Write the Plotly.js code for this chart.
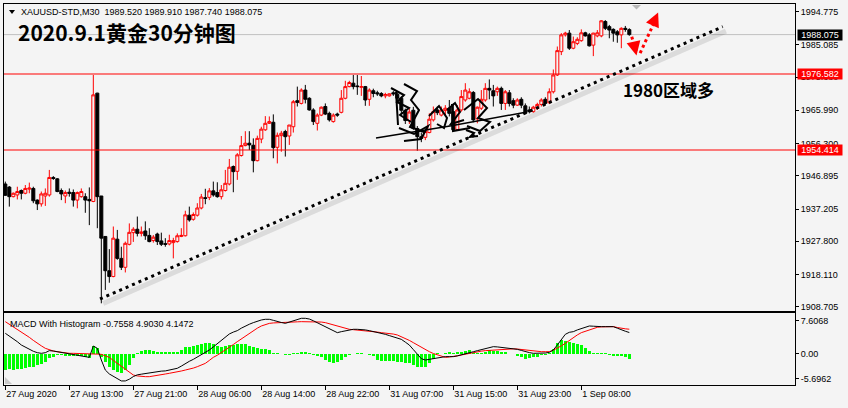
<!DOCTYPE html>
<html><head><meta charset="utf-8">
<script src="https://cdn.plot.ly/plotly-3.0.1.min.js"></script>
<style>html,body{margin:0;padding:0;background:#f4f4f4;}#chart{width:848px;height:408px;}</style>
</head><body><div id="chart"></div>
<script>
// ---- data (XAUUSD M30, bar index 0 = 27 Aug 2020) ----
const opens = [1944.5,1943.6,1940.8,1941.3,1942.6,1941.8,1943.0,1943.2,1939.8,1938.7,
1941.0,1941.3,1946.4,1946.0,1942.6,1941.0,1942.1,1942.0,1939.8,1940.8,
1940.8,1940.0,1939.4,1971.0,1941.0,1929.2,1919.2,1917.5,1928.4,1922.8,
1920.2,1926.9,1930.3,1931.3,1930.1,1930.8,1929.5,1928.0,1929.9,1927.9,
1927.1,1927.0,1927.4,1927.7,1929.2,1929.4,1935.4,1934.2,1935.4,1937.5,
1940.5,1940.6,1942.5,1942.0,1940.8,1942.6,1944.5,1949.6,1948.2,1952.8,
1955.7,1956.4,1955.8,1951.3,1957.6,1960.3,1962.2,1962.5,1955.2,1958.6,
1959.8,1958.5,1961.2,1968.8,1968.0,1971.9,1969.5,1966.1,1962.2,1964.6,
1967.1,1965.1,1962.7,1964.9,1965.4,1969.5,1972.9,1973.9,1973.1,1972.7,
1972.9,1969.2,1971.7,1971.1,1970.9,1970.2,1970.2,1971.1,1970.7,1969.5,
1966.0,1963.0,1966.0,1960.7,1958.3,1958.1,1959.5,1963.2,1966.1,1964.6,
1965.9,1966.6,1965.6,1960.4,1966.1,1969.0,1969.5,1971.2,1963.5,1966.6,
1969.0,1972.4,1971.7,1971.4,1972.4,1968.0,1971.1,1968.8,1967.5,1969.2,
1967.3,1966.1,1965.6,1966.6,1967.7,1969.2,1968.2,1971.4,1976.3,1983.1,
1988.0,1988.5,1984.1,1985.5,1986.3,1988.6,1988.0,1985.0,1987.7,1987.7,
1991.9,1990.4,1989.6,1988.9,1988.0,1989.9,1989.52];
const highs = [1945.2,1943.9,1942.0,1943.7,1942.9,1944.2,1944.9,1943.7,1940.0,1942.3,
1943.2,1948.6,1946.8,1946.2,1943.2,1942.6,1943.2,1942.9,1942.3,1943.2,
1941.8,1943.5,1976.3,1971.1,1941.0,1929.2,1925.5,1932.1,1931.1,1926.2,
1927.7,1933.0,1931.9,1935.0,1932.1,1933.6,1931.6,1929.6,1930.3,1930.3,
1928.7,1929.7,1928.8,1930.1,1931.6,1936.7,1937.9,1936.2,1938.9,1941.6,
1943.1,1943.3,1945.2,1945.0,1944.2,1948.6,1951.8,1949.9,1953.5,1958.5,
1959.9,1959.9,1957.8,1958.6,1961.2,1964.3,1964.2,1964.8,1959.5,1960.0,
1960.3,1961.7,1969.0,1972.9,1972.4,1973.4,1969.8,1966.6,1965.1,1967.1,
1968.0,1965.6,1965.1,1965.3,1971.9,1974.6,1974.6,1976.3,1976.3,1976.0,
1973.1,1972.4,1972.3,1971.7,1971.3,1971.1,1970.9,1971.6,1971.2,1970.0,
1966.5,1966.5,1967.0,1961.4,1959.5,1960.3,1965.1,1967.1,1967.1,1967.1,
1967.5,1969.0,1968.0,1967.5,1971.9,1973.9,1972.4,1971.6,1967.1,1971.9,
1973.9,1975.0,1973.4,1972.9,1972.9,1971.9,1971.9,1969.5,1969.5,1969.8,
1968.0,1967.1,1967.3,1968.2,1969.5,1969.8,1972.4,1977.9,1984.6,1988.5,
1988.9,1989.4,1987.5,1987.3,1989.6,1988.9,1988.5,1988.6,1989.4,1992.3,
1992.3,1990.9,1989.9,1989.4,1990.2,1990.6,1989.91];
const lows = [1941.0,1937.9,1940.6,1940.0,1940.0,1941.5,1941.8,1938.9,1936.9,1937.9,
1938.1,1940.8,1945.7,1942.1,1939.8,1938.9,1940.8,1937.9,1937.4,1940.5,
1936.1,1932.5,1939.2,1931.6,1909.7,1913.6,1915.7,1917.3,1922.4,1919.4,
1918.7,1926.6,1927.6,1929.2,1929.2,1928.2,1927.5,1927.4,1926.7,1926.4,
1926.2,1926.6,1922.8,1927.4,1929.0,1929.2,1933.5,1933.8,1935.0,1937.1,
1938.6,1939.8,1940.8,1940.5,1940.0,1942.3,1944.1,1942.1,1945.7,1952.5,
1955.5,1954.4,1947.9,1951.1,1956.4,1960.0,1962.0,1952.0,1950.5,1953.9,
1952.5,1955.9,1959.5,1967.1,1967.7,1968.0,1965.9,1961.7,1960.1,1964.3,
1964.6,1962.7,1962.4,1964.1,1965.1,1969.2,1972.7,1972.1,1970.5,1970.2,
1967.3,1967.3,1969.8,1970.2,1969.8,1969.5,1970.0,1970.2,1968.0,1965.0,
1962.0,1962.0,1960.3,1954.2,1956.7,1957.3,1959.3,1962.7,1964.6,1964.2,
1964.6,1964.2,1959.8,1960.1,1965.6,1968.5,1969.2,1962.5,1962.2,1966.1,
1968.5,1969.2,1967.1,1970.2,1966.1,1966.1,1967.1,1966.6,1967.3,1966.6,
1964.9,1965.1,1965.3,1966.1,1967.1,1967.5,1967.8,1970.9,1976.0,1982.1,
1987.5,1983.6,1983.8,1985.0,1986.0,1987.5,1984.6,1981.8,1987.3,1987.3,
1989.4,1987.0,1986.0,1985.7,1984.1,1988.9,1987.74];
const closes = [1941.2,1940.8,1941.8,1942.3,1941.8,1943.2,1943.3,1939.6,1938.7,1941.6,
1941.8,1946.4,1946.1,1942.3,1941.6,1942.0,1941.8,1939.8,1942.0,1942.3,
1939.8,1939.6,1970.5,1940.8,1928.7,1919.2,1917.5,1928.7,1922.8,1920.2,
1927.2,1930.4,1931.3,1930.1,1930.5,1929.4,1927.7,1929.0,1927.7,1926.9,
1926.9,1928.0,1928.0,1929.4,1929.5,1935.5,1934.0,1935.6,1937.5,1940.7,
1940.3,1942.5,1941.3,1940.8,1942.8,1944.7,1949.4,1948.1,1953.0,1955.7,
1956.4,1955.9,1951.3,1957.8,1960.5,1962.2,1962.7,1955.1,1958.7,1959.3,
1958.3,1961.7,1968.5,1968.3,1971.9,1969.2,1966.1,1962.7,1964.6,1966.9,
1964.9,1963.2,1964.6,1964.6,1969.5,1972.9,1974.1,1972.9,1972.9,1972.9,
1969.0,1971.9,1970.9,1970.8,1970.2,1970.6,1970.8,1970.8,1969.5,1966.0,
1963.0,1965.5,1960.7,1958.3,1957.8,1959.8,1963.4,1965.6,1965.3,1966.1,
1966.6,1965.1,1960.3,1966.1,1970.0,1971.9,1971.4,1963.2,1966.9,1969.2,
1972.4,1971.9,1970.2,1972.4,1968.0,1971.4,1968.0,1967.5,1969.0,1967.5,
1965.1,1965.6,1966.9,1967.7,1969.0,1968.0,1971.4,1976.3,1983.4,1988.0,
1988.5,1984.1,1986.0,1986.7,1988.6,1987.7,1984.8,1988.5,1988.6,1992.1,
1989.9,1989.4,1988.5,1988.0,1989.9,1989.6,1988.075];
const macdLine = [4.72,4.1,3.57,2.8,2.04,1.5,1.05,0.6,0.28,0.13,
0.28,0.74,0.66,0.5,0.36,0.25,0.13,-0.05,-0.25,-0.35,
-0.48,-0.79,1.81,1.28,-1.4,-3.7,-4.6,-5.2,-5.6,-6.2,
-6.2,-5.8,-5.2,-4.8,-4.65,-4.5,-4.3,-4.1,-4.0,-3.95,
-3.9,-3.7,-3.5,-3.3,-2.8,-2.2,-1.7,-1.25,-0.75,-0.25,
0.3,0.9,1.6,2.3,3.2,3.9,4.57,5.0,5.33,5.9,
6.4,6.8,7.17,7.5,7.78,7.93,7.93,7.7,7.39,7.2,
7.01,7.3,7.62,7.9,8.16,8.16,8.0,7.6,7.17,6.7,
6.25,5.8,5.33,4.87,5.1,5.33,5.5,5.64,5.64,5.64,
5.5,5.33,5.15,4.95,4.7,4.49,4.2,3.95,3.65,3.34,
2.7,2.04,1.0,-0.02,-1.1,-1.4,-1.25,-1.0,-0.79,-0.7,
-0.63,-0.63,-0.63,-0.45,-0.25,0.0,0.28,0.5,0.74,1.0,
1.28,1.5,1.66,1.6,1.51,1.4,1.28,1.15,1.05,0.8,
0.51,0.3,0.13,0.13,0.13,0.2,0.36,0.89,2.04,3.34,
4.49,4.95,5.1,5.5,5.86,6.1,6.4,6.35,6.25,6.25,
6.25,6.25,6.25,5.9,5.48,5.2,4.903];
const signalLine = [7.39,6.8,6.25,5.7,5.1,4.45,3.8,3.1,2.42,1.85,
1.28,0.95,0.66,0.5,0.36,0.25,0.13,0.13,0.13,0.05,
-0.02,-0.02,-0.02,-0.05,-0.1,-0.45,-0.79,-1.5,-2.17,-2.85,
-3.54,-4.2,-4.84,-5.05,-5.22,-5.22,-5.22,-5.1,-4.99,-4.8,
-4.61,-4.45,-4.31,-4.1,-3.92,-3.7,-3.54,-3.25,-2.93,-2.55,
-2.17,-1.5,-0.79,-0.3,0.28,0.9,1.5,2.15,2.81,3.45,
4.11,4.7,5.33,5.9,6.4,6.7,7.0,7.1,7.17,7.17,
7.17,7.25,7.32,7.35,7.39,7.39,7.39,7.39,7.39,7.3,
7.17,6.9,6.63,6.35,6.1,5.85,5.64,5.55,5.48,5.4,
5.33,5.2,5.1,5.0,4.87,4.8,4.72,4.55,4.34,3.95,
3.57,3.1,2.58,2.05,1.51,0.89,0.51,0.1,-0.25,-0.55,
-0.79,-0.7,-0.63,-0.45,-0.25,-0.05,0.13,0.3,0.51,0.63,
0.74,0.8,0.89,0.97,1.05,1.12,1.2,1.16,1.12,1.0,
0.89,0.78,0.66,0.58,0.51,0.51,0.51,0.85,1.28,1.85,
2.42,3.1,3.8,4.35,4.87,5.2,5.48,5.8,6.1,6.2,
6.25,6.25,6.25,6.05,5.86,5.75,5.66];
const histogram = [-3.7,-3.5,-3.7,-3.5,-3.4,-3.3,-3.1,-2.9,-2.5,-2.2,
-1.8,-1.0,-0.6,-0.3,-0.3,-0.4,-0.4,-0.5,-0.4,-0.5,
-0.6,-0.9,1.8,1.3,-0.6,-1.8,-2.9,-3.7,-4.1,-4.3,
-3.8,-2.5,-1.0,0.3,0.74,0.9,0.9,0.74,0.5,0.43,
0.36,0.36,0.43,0.5,0.9,1.5,1.66,1.8,2.04,2.27,
2.42,2.42,2.27,1.8,1.66,1.8,1.96,1.96,2.27,2.27,
2.27,1.8,1.5,1.28,1.2,1.05,0.9,0.13,0.13,-0.1,
-0.33,-0.33,0.13,0.28,0.5,0.5,0.13,-0.25,-0.48,-0.79,
-1.4,-1.8,-2.0,-1.86,-1.4,-0.63,-0.33,-0.02,0.28,0.13,
-0.1,-0.33,-0.48,-1.4,-1.55,-1.63,-1.63,-1.7,-1.78,-1.86,
-2.0,-2.17,-2.55,-2.93,-2.93,-2.93,-2.17,-1.2,0.3,-0.1,
0.28,0.44,0.28,0.36,0.44,0.59,0.9,0.28,0.2,0.28,
0.51,0.9,0.66,0.59,0.51,0.44,0.05,-0.02,-0.48,-0.63,
-1.1,-0.94,-0.79,-0.63,-0.33,-0.18,0.1,1.05,2.58,3.19,
2.96,2.8,2.58,2.27,1.96,1.28,0.74,0.28,0.28,0.2,
0.13,-0.18,-0.48,-0.48,-0.48,-0.63,-1.1];
const timeTickIndex = [0,16,32,48,64,80,96,112,128,144];
const timeTickLabels = ['27 Aug 2020','27 Aug 13:00','27 Aug 21:00','28 Aug 06:00','28 Aug 14:00','28 Aug 22:00','31 Aug 07:00','31 Aug 15:00','31 Aug 23:00','1 Sep 08:00'];
const priceTicks = [1994.775,1985.085,1975.680,1965.990,1956.300,1946.895,1937.205,1927.800,1918.110,1908.705];
const macdTicks = [7.6068,0,-5.6962];
const macdTickLabels = ['7.6068','0.00','-5.6962'];
const levelPrices = [1976.582,1954.414];
const lastPrice = 1988.075;
const headerText = 'XAUUSD-STD,M30\u00a0 1989.520 1989.910 1987.740 1988.075';
const macdText = 'MACD With Histogram -0.7558 4.9030 4.1472';
// drawing objects, in (bar index, price)
const trendLine = [[23.67,1910.96],[179.35,1990.38]];
const arrowDown = [[156.6,1987.46],[157.8,1983.0]];
const arrowUp = [[158.7,1982.7],[162.9,1993.3]];

// ---- build ----
const bars = opens.map((_, i) => i);
const W = 848, H = 408, ML = 4, MR = 53, MT = 4, MB = 23;
const px2x = p => (p - ML) / (W - ML - MR);
const py2y = p => (H - MB - p) / (H - MT - MB);
const FONT = 'Liberation Sans, Arial, sans-serif';
const CJK = 'Noto Sans CJK SC, sans-serif';
const XR = [-0.33, 197.42];

const traces = [
  {type:'candlestick', x:bars, open:opens, high:highs, low:lows, close:closes,
   xaxis:'x', yaxis:'y', whiskerwidth:0, hoverinfo:'skip',
   increasing:{line:{color:'#ff0000', width:1}, fillcolor:'#f4f4f4'},
   decreasing:{line:{color:'#000000', width:1}, fillcolor:'#000000'}},
  {type:'bar', x:bars, y:histogram, xaxis:'x2', yaxis:'y2', width:0.75,
   marker:{color:'#00ff00', line:{width:0}}, hoverinfo:'skip'},
  {type:'scatter', mode:'lines', x:bars, y:signalLine, xaxis:'x2', yaxis:'y2',
   line:{color:'#ff0000', width:1}, hoverinfo:'skip'},
  {type:'scatter', mode:'lines', x:bars, y:macdLine, xaxis:'x2', yaxis:'y2',
   line:{color:'#000000', width:1}, hoverinfo:'skip'}
];

const shapes = [];
shapes.push({type:'line', xref:'paper', yref:'y', x0:0, x1:1, y0:lastPrice, y1:lastPrice,
  line:{color:'#c0c0c0', width:1}, layer:'below'});
levelPrices.forEach(p => shapes.push({type:'line', xref:'paper', yref:'y', x0:0, x1:1, y0:p, y1:p,
  line:{color:'#ff0000', width:1}, layer:'above'}));
// trendline shadow + dotted trendline
shapes.push({type:'line', xref:'x', yref:'y', x0:trendLine[0][0]+0.8, y0:trendLine[0][1]-1.3,
  x1:trendLine[1][0]+0.8, y1:trendLine[1][1]-1.3, line:{color:'rgba(0,0,0,0.10)', width:5}});
shapes.push({type:'line', xref:'x', yref:'y', x0:trendLine[0][0], y0:trendLine[0][1],
  x1:trendLine[1][0], y1:trendLine[1][1], line:{color:'#000000', width:3, dash:'3px,4px'}});
[arrowDown, arrowUp].forEach(a => shapes.push({type:'line', xref:'x', yref:'y',
  x0:a[0][0], y0:a[0][1], x1:a[1][0], y1:a[1][1], line:{color:'#ff0000', width:3, dash:'3px,3px'}}));

function pathFromPx(pts, close) {
  return pts.map((p, k) => (k ? 'L' : 'M') + px2x(p[0]).toFixed(5) + ',' + py2y(p[1]).toFixed(5)).join(' ') + (close ? ' Z' : '');
}
// small triangles (MT4 decorations)
shapes.push({type:'path', xref:'paper', yref:'paper', path:pathFromPx([[9,10],[15,10],[12,14]], true),
  fillcolor:'#000', line:{width:0}});
shapes.push({type:'path', xref:'paper', yref:'paper', path:pathFromPx([[632,5],[641,5],[636.5,9.5]], true),
  fillcolor:'#b8b8b8', line:{width:0}});
shapes.push({type:'path', xref:'paper', yref:'paper', path:pathFromPx([[5,377],[5,384],[12,384]], true),
  fillcolor:'#c8c8c8', line:{width:0}});
// handwritten signature (approximate strokes)
const sigStrokes = [
  [[396,92],[397,108],[398,125]],
  [[391,88],[404,95],[397,102],[409,108],[400,115],[411,122]],
  [[404,84],[417,91],[411,100],[419,110],[410,127],[424,132]],
  [[399,128],[414,134],[428,126],[421,139],[404,141]],
  [[429,116],[439,106],[447,118],[444,128],[437,124]],
  [[447,110],[455,103],[460,112],[451,124],[464,120]],
  [[452,104],[453,131],[470,128]],
  [[464,110],[478,99],[487,108],[478,118],[490,122],[480,131],[467,126]],
  [[466,130],[474,133],[470,137],[478,136]]
];
sigStrokes.forEach(s => shapes.push({type:'path', xref:'paper', yref:'paper', path:pathFromPx(s),
  line:{color:'#000', width:2}, fillcolor:'rgba(0,0,0,0)'}));
shapes.push({type:'path', xref:'paper', yref:'paper', path:pathFromPx([[376,138],[450,126],[527,112]]),
  line:{color:'#000', width:1.5}, fillcolor:'rgba(0,0,0,0)'});

const annotations = [
  {xref:'paper', yref:'paper', x:px2x(19), y:py2y(12), xanchor:'left', yanchor:'middle', showarrow:false,
   text:headerText, font:{family:FONT, size:9, color:'#000'}},
  {xref:'paper', yref:'paper', x:px2x(16), y:py2y(32.5), xanchor:'left', yanchor:'middle', showarrow:false,
   text:'<b>2020.9.1黄金30分钟图</b>', font:{family:CJK, size:21, color:'#000'}},
  {xref:'paper', yref:'paper', x:px2x(621), y:py2y(89), xanchor:'left', yanchor:'middle', showarrow:false,
   text:'<b>1980区域多</b>', font:{family:CJK, size:17, color:'#000'}},
  {xref:'paper', yref:'paper', x:px2x(8), y:py2y(323.5), xanchor:'left', yanchor:'middle', showarrow:false,
   text:macdText, font:{family:FONT, size:9, color:'#000'}},
  {xref:'paper', yref:'y', x:1, xshift:2, y:lastPrice, xanchor:'left', yanchor:'middle', showarrow:false,
   text:lastPrice.toFixed(3), bgcolor:'#000', width:44, height:10, borderpad:0, font:{family:FONT, size:9, color:'#fff'}},
  {xref:'x', yref:'y', x:arrowDown[1][0], y:arrowDown[1][1]-1.0, ax:-2, ay:-9, text:'', showarrow:true,
   arrowhead:2, arrowsize:1.4, arrowwidth:2, arrowcolor:'#ff0000'},
  {xref:'x', yref:'y', x:arrowUp[1][0]+0.3, y:arrowUp[1][1]+1.2, ax:-4, ay:9, text:'', showarrow:true,
   arrowhead:2, arrowsize:1.4, arrowwidth:2, arrowcolor:'#ff0000'}
];
levelPrices.forEach(p => annotations.push({xref:'paper', yref:'y', x:1, xshift:2, y:p, xanchor:'left', yanchor:'middle',
  showarrow:false, text:p.toFixed(3), bgcolor:'#ff0000', width:44, height:10, borderpad:0,
  font:{family:FONT, size:9, color:'#fff'}}));

const axBase = {showgrid:false, zeroline:false, showline:true, mirror:true, linecolor:'#000', linewidth:1, fixedrange:true};
const layout = {
  width:W, height:H, margin:{l:ML, r:MR, t:MT, b:MB},
  paper_bgcolor:'#f4f4f4', plot_bgcolor:'#f4f4f4', showlegend:false,
  boxgap:0.25, boxgroupgap:0, bargap:0, dragmode:false, hovermode:false,
  xaxis:Object.assign({}, axBase, {domain:[0,1], anchor:'y', range:XR, showticklabels:false, ticks:'',
    rangeslider:{visible:false}}),
  xaxis2:Object.assign({}, axBase, {domain:[0,1], anchor:'y2', range:XR, tickmode:'array',
    tickvals:timeTickIndex, ticktext:timeTickLabels, ticks:'outside', ticklen:4, tickcolor:'#000',
    ticklabelposition:'outside right', tickfont:{family:FONT, size:9, color:'#000'}}),
  yaxis:Object.assign({}, axBase, {domain:[0.1942,1], anchor:'x', side:'right', range:[1907.45,1997.0],
    tickmode:'array', tickvals:priceTicks, ticktext:priceTicks.map(v => v.toFixed(3)),
    ticks:'outside', ticklen:3, tickcolor:'#000', tickfont:{family:FONT, size:9, color:'#000'}}),
  yaxis2:Object.assign({}, axBase, {domain:[0,0.189], anchor:'x2', side:'right', range:[-7.13,9.38],
    tickmode:'array', tickvals:macdTicks, ticktext:macdTickLabels,
    ticks:'outside', ticklen:3, tickcolor:'#000', tickfont:{family:FONT, size:9, color:'#000'}}),
  shapes:shapes, annotations:annotations
};
Plotly.newPlot('chart', traces, layout, {staticPlot:true, displayModeBar:false});
</script></body></html>
